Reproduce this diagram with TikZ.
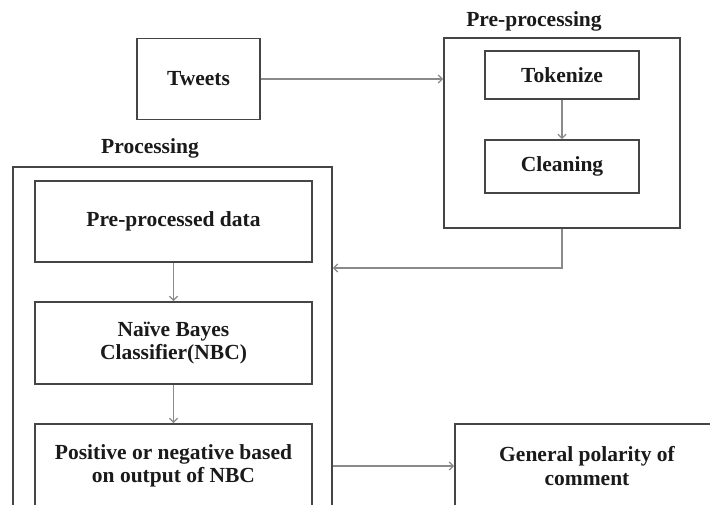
\documentclass[tikz,border=0pt]{standalone}
\usepackage{fontspec}
\setmainfont{Liberation Serif}
\usetikzlibrary{arrows.meta}
\definecolor{boxline}{HTML}{454545}
\definecolor{arrline}{HTML}{8A8A8A}
\definecolor{txt}{HTML}{1A1A1A}
\begin{document}
\begin{tikzpicture}[x=1pt,y=-1pt,
  box/.style={draw=boxline,line width=1.8pt,rectangle,inner sep=0pt,align=center,
    font=\bfseries\fontsize{21.5}{23.5}\selectfont,text=txt},
  lbl/.style={font=\bfseries\fontsize{21.5}{23.5}\selectfont,text=txt,inner sep=0pt},
  conn/.style={draw=arrline,line width=1.3pt,-{Straight Barb[length=4pt,width=8pt]}}]
\useasboundingbox (0,0) rectangle (710,504);
\fill[white] (0,0) rectangle (710,504);
\clip (0,0) rectangle (710,504);
% pre-processing group
\node[box,minimum width=236pt,minimum height=190pt] (prebox) at (562,133) {};
\node[lbl] (prelabel) at (534,21) {Pre-processing};
\node[box,minimum width=154pt,minimum height=48pt] (tok) at (562,75) {Tokenize};
\node[box,minimum width=154pt,minimum height=53pt] (clean) at (562,166.5) {Cleaning};
% tweets
\node[box,minimum width=123pt,minimum height=81pt] (tweets) at (198.5,79) {Tweets};
% processing group
\node[box,minimum width=319pt,minimum height=353pt] (procbox) at (172.5,343.5) {};
\node[lbl] (proclabel) at (150,148) {Processing};
\node[box,minimum width=277pt,minimum height=81pt] (ppd) at (173.5,221.5) {Pre-processed data};
\node[box,minimum width=277pt,minimum height=82pt] (nbc) at (173.5,343) {Naïve Bayes\\Classifier(NBC)};
\node[box,minimum width=277pt,minimum height=84pt] (pos) at (173.5,466) {Positive or negative based\\on output of NBC};
\node[box,minimum width=264pt,minimum height=84pt] (gen) at (587,466) {General polarity of\\comment};
% connectors
\coordinate (c1) at (562,268);
\draw[conn] (tweets.east) -- (tweets.east -| prebox.west);
\draw[conn] (tok) -- (clean);
\draw[conn] (prebox.south) -- (c1) -- (c1 -| procbox.east);
\draw[conn] (ppd) -- (nbc);
\draw[conn] (nbc) -- (pos);
\draw[conn] (pos.east -| procbox.east) -- (gen.west);
\end{tikzpicture}
\end{document}
